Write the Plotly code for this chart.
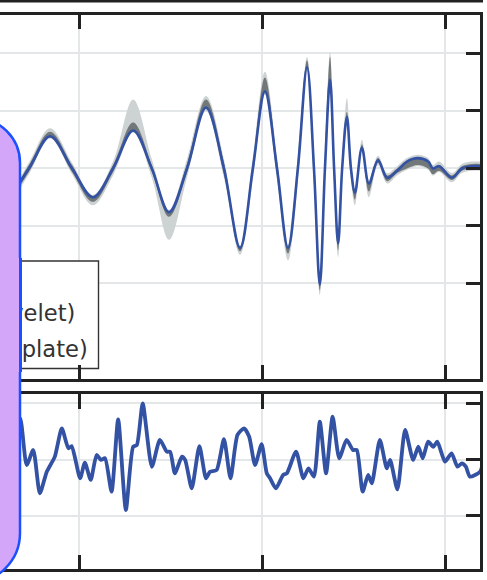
import plotly.graph_objects as go

W, H = 487, 580

# ---------------- data: top panel (time in s, strain in 1e-21) ----------------
t_nr = [0.3284, 0.3306, 0.3363, 0.3421, 0.3481, 0.3538, 0.3593, 0.3648, 0.3699, 0.3746,
        0.3795, 0.3847, 0.3896, 0.3940, 0.3975, 0.4008, 0.4041, 0.4071, 0.4098, 0.4123,
        0.4142, 0.4158, 0.4172, 0.4186, 0.4197, 0.4208, 0.4219, 0.4232, 0.4243, 0.4254,
        0.4273, 0.4292, 0.4317, 0.4342, 0.4369, 0.4396, 0.4426, 0.4454, 0.4467, 0.4484,
        0.4519, 0.4546, 0.4574, 0.4598]
h_nr = [-0.20, -0.24, 0.00, 0.28, 0.00, -0.25, 0.00, 0.33, 0.00, -0.38,
        0.00, 0.53, 0.00, -0.69, 0.00, 0.67, 0.00, -0.69, 0.00, 0.88,
        0.00, -1.01, 0.00, 0.77, 0.00, -0.65, 0.00, 0.45, 0.00, -0.21,
        0.18, -0.13, 0.07, -0.08, -0.02, 0.06, 0.09, 0.06, 0.00, 0.02,
        -0.08, 0.00, 0.02, 0.02]
# 90% credible band extents above / below the NR curve
tmpl_up = [0.04, 0.02, 0.05, 0.07, 0.05, 0.02, 0.06, 0.27, 0.08, 0.02,
           0.08, 0.10, 0.08, 0.02, 0.10, 0.17, 0.10, 0.03, 0.12, 0.09,
           0.15, 0.03, 0.15, 0.24, 0.12, 0.03, 0.12, 0.16, 0.10, 0.03,
           0.07, 0.03, 0.04, 0.04, 0.04, 0.03, 0.03, 0.03, 0.03, 0.04,
           0.04, 0.04, 0.04, 0.04]
tmpl_dn = [0.04, 0.06, 0.05, 0.02, 0.05, 0.07, 0.06, 0.02, 0.08, 0.24,
           0.08, 0.03, 0.08, 0.06, 0.10, 0.03, 0.10, 0.11, 0.12, 0.03,
           0.15, 0.09, 0.15, 0.03, 0.12, 0.12, 0.12, 0.03, 0.10, 0.11,
           0.03, 0.12, 0.04, 0.05, 0.04, 0.07, 0.07, 0.07, 0.06, 0.05,
           0.04, 0.04, 0.04, 0.04]
wav_up = [0.02, 0.01, 0.03, 0.04, 0.03, 0.01, 0.03, 0.07, 0.03, 0.01,
          0.04, 0.07, 0.05, 0.01, 0.05, 0.12, 0.06, 0.01, 0.06, 0.06,
          0.08, 0.01, 0.08, 0.20, 0.08, 0.01, 0.06, 0.04, 0.05, 0.01,
          0.03, 0.01, 0.02, 0.02, 0.02, 0.00, 0.00, 0.00, 0.00, 0.01,
          0.02, 0.02, 0.02, 0.02]
wav_dn = [0.02, 0.03, 0.03, 0.01, 0.03, 0.04, 0.03, 0.01, 0.03, 0.04,
          0.04, 0.01, 0.05, 0.03, 0.05, 0.01, 0.06, 0.05, 0.06, 0.01,
          0.08, 0.05, 0.08, 0.01, 0.08, 0.06, 0.06, 0.01, 0.05, 0.06,
          0.01, 0.07, 0.02, 0.03, 0.02, 0.06, 0.06, 0.06, 0.05, 0.04,
          0.02, 0.02, 0.02, 0.02]

# ---------------- data: bottom panel (residual) ----------------
t_res = [0.3317, 0.3339, 0.3357, 0.3375, 0.3393, 0.3412, 0.3434, 0.3453, 0.3471, 0.3480,
         0.3503, 0.3516, 0.3532, 0.3548, 0.3560, 0.3571, 0.3589, 0.3607, 0.3628, 0.3648,
         0.3658, 0.3674, 0.3699, 0.3721, 0.3740, 0.3749, 0.3762, 0.3781, 0.3790, 0.3808,
         0.3829, 0.3847, 0.3858, 0.3876, 0.3896, 0.3914, 0.3933, 0.3951, 0.3965, 0.3981,
         0.3999, 0.4013, 0.4022, 0.4038, 0.4058, 0.4068, 0.4093, 0.4113, 0.4127, 0.4142,
         0.4158, 0.4175, 0.4193, 0.4211, 0.4231, 0.4249, 0.4259, 0.4275, 0.4290, 0.4300,
         0.4322, 0.4341, 0.4350, 0.4370, 0.4391, 0.4413, 0.4427, 0.4439, 0.4454, 0.4468,
         0.4479, 0.4500, 0.4518, 0.4534, 0.4546, 0.4557, 0.4568, 0.4596, 0.4604]
r_res = [0.170, 0.365, -0.049, 0.084, -0.299, -0.108, 0.025, 0.276, 0.099, 0.119,
         -0.166, -0.028, -0.181, 0.040, -0.004, 0.011, -0.285, 0.356, -0.447, 0.113,
         0.128, 0.497, -0.064, 0.173, 0.069, 0.069, -0.122, 0.025, -0.004, -0.255,
         0.119, -0.166, -0.108, -0.093, 0.179, -0.166, 0.217, 0.276, 0.202, -0.049,
         0.135, -0.122, -0.166, -0.255, -0.137, -0.122, 0.069, -0.166, -0.078, -0.152,
         0.335, -0.122, 0.379, 0.011, 0.173, 0.084, 0.084, -0.285, -0.137, -0.211,
         0.173, -0.078, -0.004, -0.264, 0.261, -0.004, 0.113, 0.011, 0.158, 0.113,
         0.158, -0.019, 0.055, -0.064, -0.034, -0.064, -0.152, -0.108, -0.019]

x_ticks = [0.35, 0.40, 0.45]
y_ticks_top = [-1.0, -0.5, 0.0, 0.5, 1.0]
y_ticks_bot = [-0.5, 0.0, 0.5]

legend_labels = ["Numerical relativity", "Reconstructed (wavelet)", "Reconstructed (template)"]

# ---------------- styling ----------------
BLUE = "#3352a3"
LIGHT = "#cdd2d2"
DARK = "#72777a"
AX = "#222222"
GRID = "#e4e7e7"
FONT = "DejaVu Sans"
PURPLE = "#d3a6f9"
EDGE = "#1a50ff"

tmpl_hi = [h + u for h, u in zip(h_nr, tmpl_up)]
tmpl_lo = [h - d for h, d in zip(h_nr, tmpl_dn)]
wav_hi = [h + u for h, u in zip(h_nr, wav_up)]
wav_lo = [h - d for h, d in zip(h_nr, wav_dn)]

fig = go.Figure()

def band(hi, lo, color):
    fig.add_trace(go.Scatter(x=t_nr, y=hi, mode="lines", line=dict(width=0, shape="spline", color=color),
                             hoverinfo="skip", showlegend=False, xaxis="x", yaxis="y"))
    fig.add_trace(go.Scatter(x=t_nr, y=lo, mode="lines", line=dict(width=0, shape="spline", color=color),
                             fill="tonexty", fillcolor=color, hoverinfo="skip", showlegend=False,
                             xaxis="x", yaxis="y"))

band(tmpl_hi, tmpl_lo, LIGHT)
band(wav_hi, wav_lo, DARK)

fig.add_trace(go.Scatter(x=t_nr, y=h_nr, mode="lines", line=dict(color=BLUE, width=2.6, shape="spline"),
                         showlegend=False, xaxis="x", yaxis="y"))

fig.add_trace(go.Scatter(x=t_res, y=r_res, mode="lines", line=dict(color=BLUE, width=3.8, shape="spline", smoothing=0.6),
                         showlegend=False, xaxis="x2", yaxis="y2"))

x_right = 480.3
top_dom = [1 - 379.3 / H, 1 - 14.7 / H]
bot_dom = [1 - 569.3 / H, 1 - 394.2 / H]
x_range = [0.328415, 0.459645]

xcommon = dict(domain=[0, x_right / W], range=x_range, tickvals=x_ticks, showticklabels=False,
               ticks="inside", ticklen=15, tickwidth=2.5, tickcolor=AX, showline=True, linecolor=AX,
               linewidth=2.5, mirror="ticks", showgrid=True, gridcolor=GRID, gridwidth=1.6,
               zeroline=False, fixedrange=True)
ycommon = dict(side="right", showticklabels=False, ticks="inside", ticklen=15, tickwidth=2.5,
               tickcolor=AX, showline=True, linecolor=AX, linewidth=2.5, mirror=False, showgrid=True,
               gridcolor=GRID, gridwidth=1.6, zeroline=False, fixedrange=True)

fig.update_layout(
    width=W, height=H, margin=dict(l=0, r=0, t=0, b=0),
    paper_bgcolor="white", plot_bgcolor="white", showlegend=False,
    xaxis=dict(xcommon, anchor="y"),
    yaxis=dict(ycommon, domain=top_dom, range=[-1.833, 1.337], tickvals=y_ticks_top, anchor="x"),
    xaxis2=dict(xcommon, anchor="y2"),
    yaxis2=dict(ycommon, domain=bot_dom, range=[-0.972, 0.578], tickvals=y_ticks_bot, anchor="x2"),
)

def P(x, y):
    return f"{x / W:.5f},{1 - y / H:.5f}"

shapes = [
    # bottom edge of the panel above
    dict(type="line", xref="paper", yref="paper", x0=0, x1=483 / W, y0=1 - 1.3 / H, y1=1 - 1.3 / H,
         line=dict(color=AX, width=2.6), layer="above"),
    # legend frame
    dict(type="rect", xref="x", yref="y", x0=0.30, x1=0.355328, y0=-1.739, y1=-0.804,
         fillcolor="white", line=dict(color="#333333", width=1.4), layer="between"),
    # purple overlay
    dict(type="path", xref="paper", yref="paper", layer="above",
         path=(f"M {P(-60, 118)} L {P(-25, 118)} C {P(-0.15, 118)} {P(20, 138.15)} {P(20, 163)} "
               f"L {P(20, 533)} C {P(20, 560.6)} {P(-2.4, 583)} {P(-30, 583)} L {P(-60, 583)} Z"),
         fillcolor=PURPLE, line=dict(color=EDGE, width=2.5)),
]
fig.update_layout(shapes=shapes)

# legend labels (right ends in pixels) – left parts are hidden under the overlay
label_right_px = [17.0, 77.0, 90.3]
label_mid_px = [277.0, 313.0, 349.0]
annotations = []
for lab, xr, ym in zip(legend_labels, label_right_px, label_mid_px):
    annotations.append(dict(text=lab, xref="paper", yref="paper", x=xr / W, y=1 - ym / H,
                            xanchor="right", yanchor="middle", showarrow=False,
                            font=dict(family=FONT, size=22.6, color="#333333")))
# overlay pieces repeated above the labels so the hidden part of the text stays covered
annotations.append(dict(text=" ", xref="paper", yref="paper", x=18.8 / W, y=1 - 315 / H,
                        xanchor="right", yanchor="middle", showarrow=False, width=40, height=114,
                        bgcolor=PURPLE, borderpad=0, borderwidth=0))
annotations.append(dict(text=" ", xref="paper", yref="paper", x=20 / W, y=1 - 315 / H,
                        xanchor="center", yanchor="middle", showarrow=False, width=2.5, height=114,
                        bgcolor=EDGE, borderpad=0, borderwidth=0))
fig.update_layout(annotations=annotations)

fig.write_html("out.html", config={"displayModeBar": False},
               post_script="document.body.style.margin='0px';document.body.style.overflow='hidden';")
